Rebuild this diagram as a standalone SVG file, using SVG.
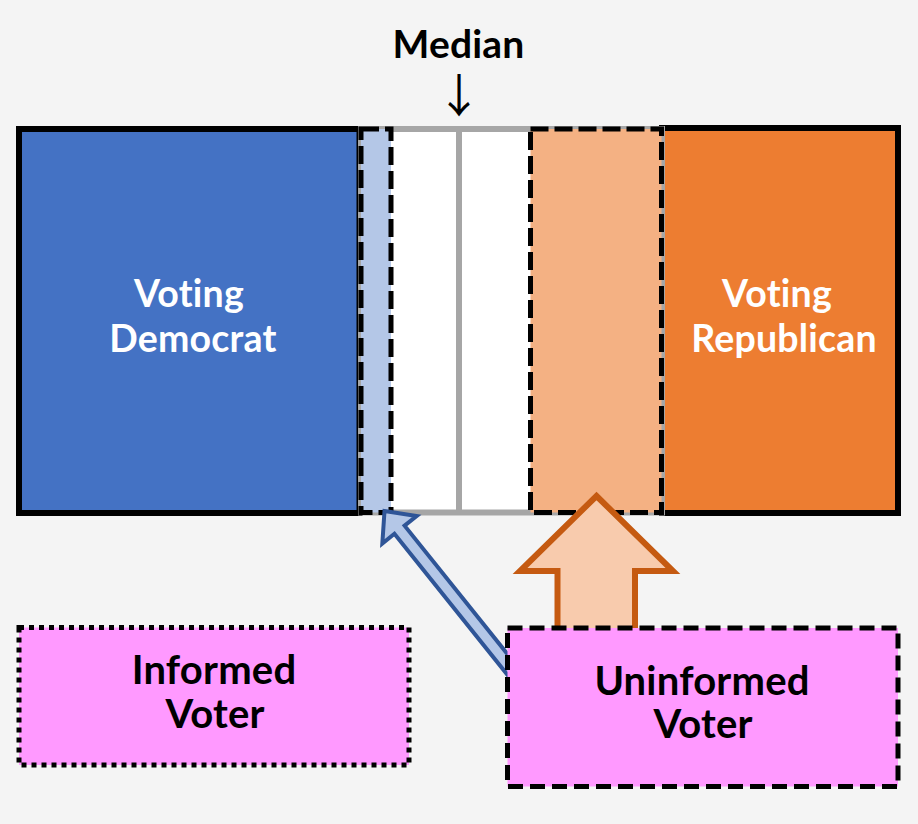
<svg xmlns="http://www.w3.org/2000/svg" width="918" height="824" viewBox="0 0 918 824">
<style>
.lbl{font-family:Lato,"Open Sans","Liberation Sans",sans-serif;font-weight:bold;text-anchor:middle;font-variant-ligatures:none;font-feature-settings:"liga" 0,"clig" 0,"dlig" 0,"calt" 0;letter-spacing:0.2px}
.w{fill:#ffffff;font-size:37.5px}
.k{fill:#000000;font-size:40px}
.dash{stroke:#000000;stroke-width:5;stroke-dasharray:18 6}
</style>
<rect x="0" y="0" width="918" height="824" fill="#f4f4f4"/>
<g id="democrat">
<rect x="19" y="129" width="340.5" height="384" fill="#4472c4" stroke="#000000" stroke-width="6"/>
<text class="lbl w"><tspan x="189" y="307">Voting</tspan><tspan x="193" y="352">Democrat</tspan></text>
</g>
<g id="republican">
<rect x="662" y="128" width="236" height="385" fill="#ed7d31" stroke="#000000" stroke-width="6"/>
<text class="lbl w"><tspan x="777" y="307">Voting</tspan><tspan x="784" y="352">Republican</tspan></text>
</g>
<g id="middle">
<rect x="361" y="129" width="301" height="383.5" fill="#ffffff" stroke="#a6a6a6" stroke-width="6"/>
<line x1="459" y1="129" x2="459" y2="512.5" stroke="#a6a6a6" stroke-width="6"/>
</g>
<g id="lean-democrat">
<rect class="dash" x="361" y="129" width="30" height="383.5" fill="#b4c7e7"/>
</g>
<g id="lean-republican">
<rect class="dash" x="530.5" y="129" width="131" height="383.5" fill="#f4b183"/>
</g>
<g id="median">
<text class="lbl" fill="#000000" font-size="39px"><tspan x="458.5" y="58">Median</tspan><tspan x="459" y="112" font-weight="normal" font-size="46px" font-family="'Noto Sans CJK JP','DejaVu Sans',sans-serif">↓</tspan></text>
</g>
<g id="connectors">
<polygon points="0,0 22,24 6.5,24 6.5,225 -6.5,225 -6.5,24 -22,24" transform="translate(384.5 511) rotate(-38.7)" fill="#b4c7e7" stroke="#2f5597" stroke-width="4" stroke-linejoin="miter"/>
<polygon points="596.5,496 673,571 635,571 635,645 557.5,645 557.5,571 520,571" fill="#f8cbad" stroke="#c55a11" stroke-width="6" stroke-linejoin="miter"/>
</g>
<g id="informed">
<rect x="19" y="627.5" width="390" height="137.5" fill="#ff99ff" stroke="#000000" stroke-width="5" stroke-dasharray="5 5"/>
<text class="lbl k"><tspan x="214" y="684">Informed</tspan><tspan x="215" y="728">Voter</tspan></text>
</g>
<g id="uninformed">
<rect x="507.5" y="628" width="390.5" height="158.5" fill="#ff99ff" stroke="#000000" stroke-width="5" stroke-dasharray="15 7"/>
<text class="lbl k"><tspan x="702" y="695">Uninformed</tspan><tspan x="703" y="738">Voter</tspan></text>
</g>
</svg>
